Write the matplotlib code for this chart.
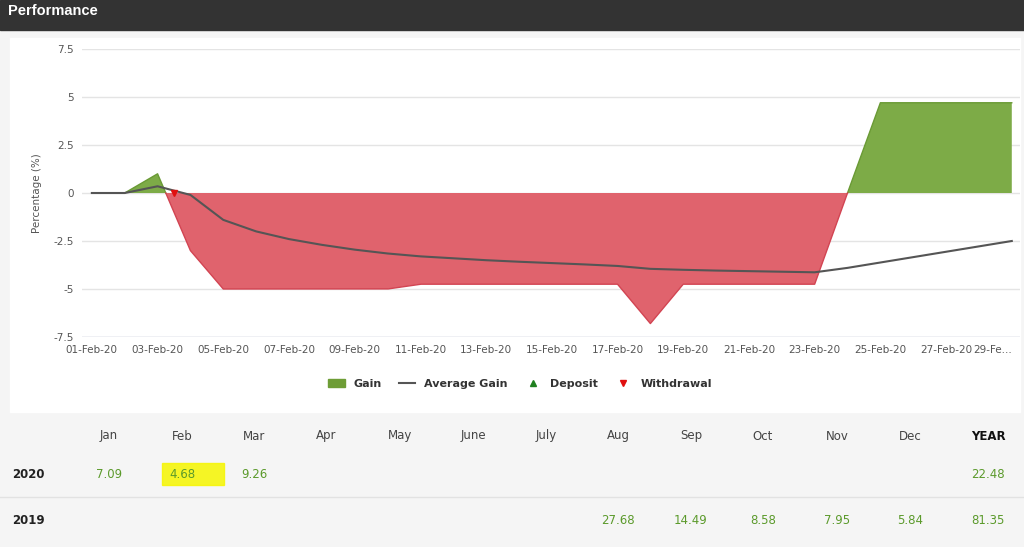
import numpy as np
import matplotlib.pyplot as plt
from matplotlib.lines import Line2D
from matplotlib.patches import Patch, Rectangle

# daily series, 01-Feb-20 .. 29-Feb-20
days = np.arange(29)
gain = [0, 0, 1.0, -3.0, -5.0, -5.0, -5.0, -5.0, -5.0, -5.0, -4.75, -4.75, -4.75, -4.75,
        -4.75, -4.75, -4.75, -6.8, -4.75, -4.75, -4.75, -4.75, -4.75, 0.0, 4.7, 4.7, 4.7, 4.7, 4.7]
avg_gain = [0, 0, 0.35, -0.1, -1.4, -2.0, -2.4, -2.7, -2.95, -3.15, -3.3, -3.4, -3.5, -3.58,
            -3.65, -3.72, -3.8, -3.95, -4.0, -4.04, -4.07, -4.1, -4.13, -3.9, -3.62, -3.34,
            -3.06, -2.78, -2.5]
withdrawal_day = [2.5]
withdrawal_val = [0.0]
tick_labels = ['01-Feb-20', '03-Feb-20', '05-Feb-20', '07-Feb-20', '09-Feb-20', '11-Feb-20',
               '13-Feb-20', '15-Feb-20', '17-Feb-20', '19-Feb-20', '21-Feb-20', '23-Feb-20',
               '25-Feb-20', '27-Feb-20', '29-Fe...']

months = ['Jan', 'Feb', 'Mar', 'Apr', 'May', 'June', 'July', 'Aug', 'Sep', 'Oct', 'Nov', 'Dec', 'YEAR']
years = ['2020', '2019']
returns = {
    '2020': ['7.09', '4.68', '9.26', '', '', '', '', '', '', '', '', '', '22.48'],
    '2019': ['', '', '', '', '', '', '', '27.68', '14.49', '8.58', '7.95', '5.84', '81.35'],
}

W, H = 1024, 547
fig = plt.figure(figsize=(W / 100, H / 100), dpi=100, facecolor='#f5f5f5')

# header bar
fig.patches.append(Rectangle((0, 1 - 30 / H), 1, 30 / H, transform=fig.transFigure,
                             color='#333333', zorder=-3))
fig.text(8 / W, 1 - 11 / H, 'Performance', color='white', fontsize=10.5, fontweight='bold',
         va='center', family='Liberation Sans')
# white chart panel
fig.patches.append(Rectangle((10 / W, 1 - 412 / H), 1010 / W, 374 / H, transform=fig.transFigure,
                             color='white', zorder=-3))

ax = fig.add_axes([82 / W, 1 - 337 / H, 938 / W, 288 / H])
ax.set_zorder(2)
ax.set_facecolor('white')
g = np.array(gain)
ax.fill_between(days, g, 0, where=g >= 0, interpolate=True, color='#7dab47', lw=0)
ax.fill_between(days, g, 0, where=g <= 0, interpolate=True, color='#e0636d', lw=0)
xx = np.linspace(0, 28, 2801)
gp = np.interp(xx, days, g)
ax.plot(xx, np.where(gp >= 0, gp, np.nan), color='#6a9a35', lw=1)
ax.plot(xx, np.where(gp <= 0, gp, np.nan), color='#d24452', lw=1)
ax.plot(days, avg_gain, color='#555555', lw=1.5)
ax.plot(withdrawal_day, withdrawal_val, marker='v', color='#e01010', ms=5, ls='none')

ax.set_xlim(-0.3, 28.25)
ax.set_ylim(-7.5, 7.5)
ax.set_yticks([-7.5, -5, -2.5, 0, 2.5, 5, 7.5])
ax.set_yticklabels(['-7.5', '-5', '-2.5', '0', '2.5', '5', '7.5'])
ax.set_xticks(np.arange(0, 29, 2))
ax.set_xticklabels(tick_labels)
ax.get_xticklabels()[-1].set_ha('right')
ax.get_xticklabels()[-1].set_x(28.25)
ax.tick_params(length=0, labelsize=7.5, colors='#555555', pad=6)
ax.grid(axis='y', color='#e4e4e4', lw=1)
ax.set_axisbelow(True)
for s in ax.spines.values():
    s.set_visible(False)
ax.axhline(-7.5, color='#c8d0e0', lw=1)
ax.set_ylabel('Percentage (%)', fontsize=7.5, color='#555555', labelpad=8)

handles = [Patch(color='#6e9d36', label='Gain'),
           Line2D([], [], color='#555555', lw=1.5, label='Average Gain'),
           Line2D([], [], marker='^', color='#208020', ls='none', ms=5, label='Deposit'),
           Line2D([], [], marker='v', color='#e01010', ls='none', ms=5, label='Withdrawal')]
fig.legend(handles=handles, loc='center', bbox_to_anchor=(520 / W, 1 - 384 / H), ncol=4,
           frameon=False, prop={'size': 8, 'weight': 'bold'}, handlelength=1.5,
           columnspacing=1.5, labelcolor='#333333')

# table
col_x = [109, 182, 254, 326, 400, 473, 546, 618, 691, 763, 837, 910, 988]
for x, m in zip(col_x, months):
    fig.text(x / W, 1 - 436 / H, m, ha='center', va='center', fontsize=8.5,
             color='#111111' if m == 'YEAR' else '#444444',
             fontweight='bold' if m == 'YEAR' else 'normal')
row_y = [474, 521]
fig.add_artist(Line2D([0, 1], [1 - 497 / H] * 2, color='#e2e2e2', lw=1))
# yellow highlight over Feb 2020
fig.patches.append(Rectangle((162 / W, 1 - 485 / H), 62 / W, 22 / H, transform=fig.transFigure,
                             color='#f5f500', alpha=0.85, zorder=-1))
for yv, yr in zip(row_y, years):
    fig.text(12 / W, 1 - yv / H, yr, ha='left', va='center', fontsize=8.5, fontweight='bold',
             color='#222222')
    for x, v in zip(col_x, returns[yr]):
        if v:
            fig.text(x / W, 1 - yv / H, v, ha='center', va='center', fontsize=8.5,
                     color='#5b9a2b')

fig.savefig('out.png', dpi=100, facecolor=fig.get_facecolor())
